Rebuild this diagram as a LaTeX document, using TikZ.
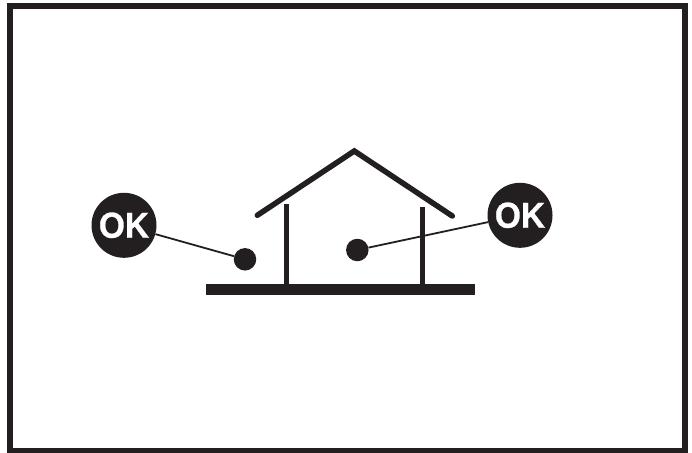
\documentclass[tikz,border=0pt]{standalone}
\usepackage{fontspec}
\newfontfamily\okfont[FakeBold=0.8, FakeStretch=0.93]{Liberation Sans Bold}
\definecolor{ink}{HTML}{231F20}
\begin{document}
\begin{tikzpicture}[
  x=1pt, y=-1pt,
  badge/.style={circle, fill=ink, text=white, minimum size=65pt, inner sep=0pt,
    font=\okfont\fontsize{36}{36}\selectfont},
  spot/.style={circle, fill=ink, minimum size=22.5pt, inner sep=0pt},
  leader/.style={draw=ink, line width=1.8pt},
  wall/.style={draw=ink, line width=5.5pt},
]
  \useasboundingbox (0,0) rectangle (692,452);
  \draw[wall, line join=miter] (10.2,6.2) rectangle (685.2,451.2);

  \node[badge] (okl) at (124,225.3) {OK};
  \node[badge] (okr) at (520,215.3) {OK};
  \node[spot] (spotl) at (245,259.3) {};
  \node[spot] (spotr) at (357.3,250) {};

  % walls stand on the floor
  \fill[ink] (206,284.3) rectangle (474.7,295.3);
  \draw[wall] (286.7,204) -- (286.7,285);
  \draw[wall] (422.3,206.7) -- (422.3,285);
  \draw[wall, line cap=round, line join=miter] (257.3,215.3) -- (354.3,151) -- (452.3,216);

  \draw[leader] (okl) to (spotl);
  \draw[leader] (okr) to (spotr);
\end{tikzpicture}
\end{document}
